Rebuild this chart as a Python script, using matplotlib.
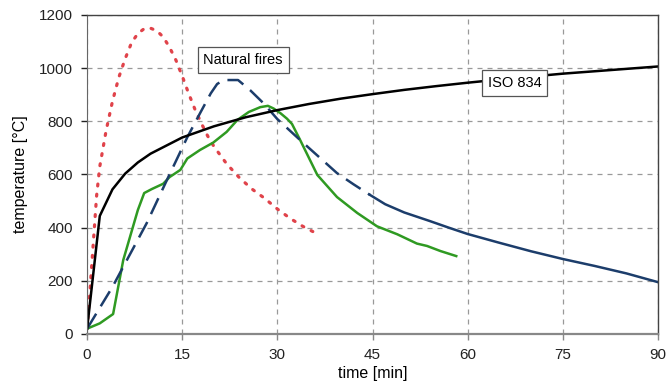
import matplotlib
matplotlib.use("Agg")
import matplotlib.pyplot as plt

plt.rcParams['font.family'] = ['Liberation Sans', 'DejaVu Sans']

# ISO 834 standard fire curve
iso_t = [0, 2, 4, 6, 8, 10, 15, 20, 25, 30, 35, 40, 45, 50, 55, 60, 65, 70, 75, 80, 85, 90]
iso_T = [20, 444, 544, 603, 645, 678, 739, 781, 815, 842, 865, 885, 902, 918, 932, 945, 957, 968, 979, 988, 997, 1006]

# natural fire 1 (red dotted)
red_t = [0, 0.5, 1, 1.5, 2, 3, 4, 5, 6, 7, 8, 9, 10, 11, 12, 13, 14, 15, 16, 17, 18,
         19, 20, 22, 24, 26, 28, 30, 32, 34, 35.6]
red_T = [20, 180, 350, 520, 630, 765, 875, 965, 1035, 1095, 1130, 1148, 1150, 1140, 1117, 1078, 1030, 970, 905, 845, 793,
         745, 705, 640, 588, 545, 510, 470, 435, 405, 385]

# natural fire 2 (blue, dashed while rising, solid in the long tail)
blue_t = [0, 4, 9.4, 12.8, 15.8, 17.8, 19.5, 20.5, 21.5, 23.8, 25.7, 27.8, 30, 33.6, 39.4, 42, 44.6, 47, 50,
          54, 57, 60, 65, 70, 75, 80, 85, 90]
blue_T = [20, 177, 417, 590, 740, 830, 905, 940, 955, 955, 917, 868, 808, 729, 605, 563, 523, 488, 457,
          425, 400, 376, 343, 311, 282, 256, 228, 195]
blue_solid_from = 44.6

# natural fire 3 (green solid)
green_t = [0, 2, 4.1, 5.7, 8, 9, 10.2, 12, 13, 14.7, 15.8, 17.8, 19.9, 22, 23.7, 25.5, 27.3, 28.5, 29.4, 30.5, 31.5,
           32.3, 33.6, 36.3, 39.4, 42.6, 45.7, 48.9, 52, 53.6, 55.7, 58.2]
green_T = [20, 40, 75, 278, 466, 530, 545, 565, 590, 617, 660, 692, 720, 760, 805, 835, 853, 858, 848, 830, 810,
           790, 729, 598, 515, 455, 405, 375, 340, 331, 312, 293]

xticks = [0, 15, 30, 45, 60, 75, 90]
yticks = [0, 200, 400, 600, 800, 1000, 1200]

fig = plt.figure(figsize=(6.7, 3.92), dpi=100)
ax = fig.add_axes([0.13, 0.148, 0.852, 0.814])

ax.plot(red_t, red_T, color='#e0434a', lw=2.3, linestyle=(0, (0.6, 2.6)), dash_capstyle='round')
ax.plot(green_t, green_T, color='#2f9a22', lw=1.8)
k = blue_t.index(blue_solid_from)
ax.plot(blue_t[:k + 1], blue_T[:k + 1], color='#1c3d6b', lw=1.8, linestyle=(0, (7, 3.5)))
ax.plot(blue_t[k:], blue_T[k:], color='#1c3d6b', lw=1.8)
ax.plot(iso_t, iso_T, color='black', lw=1.8)

ax.set_xlim(0, 90)
ax.set_ylim(0, 1200)
ax.set_xticks(xticks)
ax.set_yticks(yticks)
ax.grid(True, color='#999999', lw=0.9, linestyle=(0, (4, 4)))
ax.set_axisbelow(True)

for s in ('top', 'right'):
    ax.spines[s].set_color('#444444')
    ax.spines[s].set_linewidth(1.0)
ax.spines['left'].set_color('#666666')
ax.spines['bottom'].set_color('#888888')
ax.spines['bottom'].set_linewidth(1.6)
ax.tick_params(axis='both', labelsize=11, colors='#222222', length=4, width=1, pad=6)
ax.tick_params(axis='x', color='#888888')

ax.set_xlabel('time [min]', fontsize=11.5, labelpad=3)
ax.set_ylabel('temperature [°C]', fontsize=11.5, labelpad=8)

box = dict(boxstyle='square,pad=0.4', facecolor='white', edgecolor='#555555', lw=0.9)
ax.text(24.6, 1030, 'Natural fires', fontsize=10.5, ha='center', va='center', bbox=box)
ax.text(67.4, 944, 'ISO 834', fontsize=10.5, ha='center', va='center', bbox=box)

fig.savefig('out.png', dpi=100)
